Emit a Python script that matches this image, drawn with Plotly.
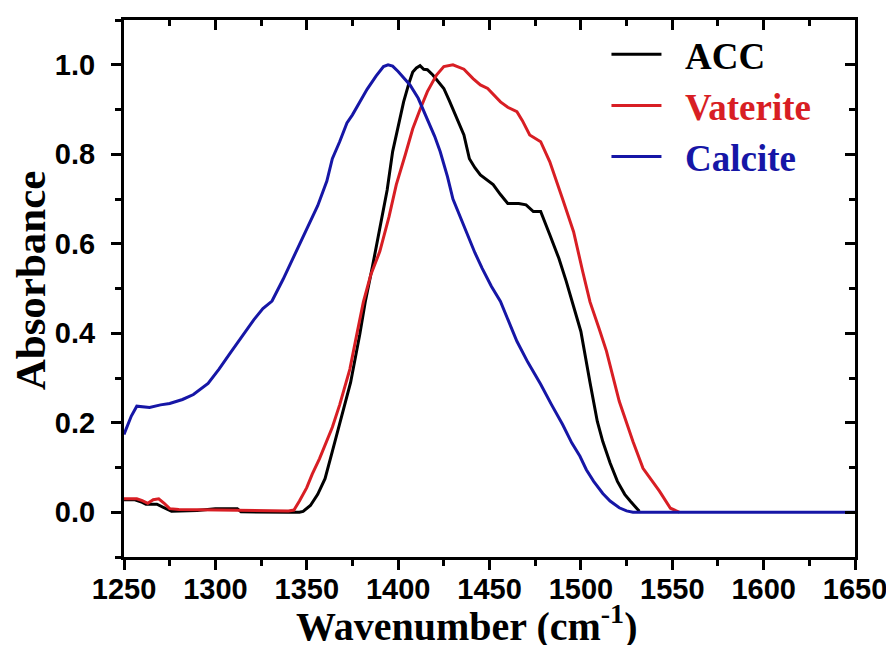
import plotly.graph_objects as go

# ---------------- data ----------------
acc_x = [1250, 1256, 1260, 1262, 1268, 1272, 1276, 1290, 1300, 1312, 1314, 1340, 1346, 1348, 1352, 1356,
         1360, 1364, 1369, 1374, 1379, 1382, 1386, 1390, 1394, 1397, 1400, 1403, 1406, 1408, 1410, 1412,
         1414, 1416, 1419, 1422, 1425, 1428, 1430, 1433, 1436, 1439, 1442, 1445, 1448, 1452, 1456, 1460,
         1466, 1470, 1474, 1478, 1483, 1488, 1492, 1496, 1500, 1505, 1509, 1512, 1516, 1520, 1524, 1527,
         1530, 1532]
acc_y = [0.028, 0.028, 0.022, 0.018, 0.018, 0.010, 0.002, 0.004, 0.008, 0.008, 0.001, 0.0, 0.0, 0.002,
         0.015, 0.040, 0.075, 0.136, 0.21, 0.29, 0.397, 0.47, 0.55, 0.634, 0.72, 0.806, 0.865, 0.917, 0.96,
         0.984, 0.993, 0.998, 0.99, 0.989, 0.977, 0.962, 0.947, 0.92, 0.90, 0.87, 0.843, 0.79, 0.77, 0.754,
         0.745, 0.732, 0.71, 0.69, 0.69, 0.687, 0.672, 0.672, 0.62, 0.567, 0.516, 0.46, 0.404, 0.29, 0.203,
         0.158, 0.11, 0.069, 0.04, 0.025, 0.01, 0.002]

vat_x = [1250, 1257, 1260, 1263, 1266, 1269, 1272, 1275, 1280, 1300, 1330, 1340, 1343, 1346, 1350, 1353,
         1357, 1360, 1364, 1368, 1373.6, 1377.5, 1381, 1385, 1390, 1395, 1399, 1404, 1408, 1412, 1416, 1421,
         1425, 1430, 1436, 1441, 1445, 1449, 1456, 1460, 1465, 1468, 1472, 1478, 1483, 1490, 1496, 1501,
         1505, 1510, 1514, 1521, 1525, 1528.5, 1534, 1538, 1543, 1549, 1554]
vat_y = [0.030, 0.030, 0.026, 0.020, 0.028, 0.030, 0.020, 0.008, 0.006, 0.005, 0.004, 0.003, 0.005, 0.025,
         0.055, 0.085, 0.12, 0.15, 0.19, 0.24, 0.32, 0.40, 0.47, 0.53, 0.583, 0.66, 0.732, 0.80, 0.857, 0.90,
         0.94, 0.977, 0.996, 1.0, 0.99, 0.969, 0.955, 0.947, 0.917, 0.905, 0.895, 0.875, 0.843, 0.828, 0.783,
         0.70, 0.627, 0.538, 0.47, 0.41, 0.36, 0.248, 0.20, 0.158, 0.098, 0.075, 0.047, 0.009, 0.0]

cal_x = [1250, 1254, 1257, 1264, 1270, 1275, 1282, 1288, 1296, 1302, 1308, 1315, 1321, 1326, 1331, 1337,
         1345, 1351, 1356, 1361, 1364, 1368, 1372, 1375, 1380, 1383, 1388, 1392, 1394.5, 1397, 1400, 1403,
         1406.5, 1411, 1416, 1420, 1423, 1427, 1430, 1434, 1438, 1442, 1446, 1451, 1456, 1460, 1465, 1471,
         1478, 1484, 1490, 1495, 1499.5, 1503, 1507, 1512, 1516, 1521, 1525, 1528.5, 1650]
cal_y = [0.174, 0.215, 0.237, 0.234, 0.24, 0.243, 0.252, 0.263, 0.288, 0.32, 0.355, 0.395, 0.43, 0.455,
         0.472, 0.52, 0.59, 0.645, 0.685, 0.74, 0.79, 0.828, 0.87, 0.888, 0.925, 0.945, 0.975, 0.996, 1.0,
         0.997, 0.985, 0.97, 0.955, 0.925, 0.88, 0.84, 0.806, 0.75, 0.70, 0.66, 0.62, 0.58, 0.545, 0.505,
         0.471, 0.43, 0.382, 0.335, 0.286, 0.24, 0.196, 0.155, 0.125, 0.095, 0.069, 0.042, 0.025, 0.01,
         0.003, 0.0, 0.0]

series_names = ["ACC", "Vaterite", "Calcite"]
series_colors = ["#000000", "#d81e24", "#1616a6"]
x_ticks = [1250, 1300, 1350, 1400, 1450, 1500, 1550, 1600, 1650]
y_ticks = [0.0, 0.2, 0.4, 0.6, 0.8, 1.0]
x_range = [1250, 1650]
y_range = [-0.1, 1.1]

# ---------------- figure ----------------
fig = go.Figure()
axes_for = [("x", "y"), ("x", "y"), ("x2", "y2")]
for (name, color, xs, ys), (xa, ya) in zip(
        zip(series_names, series_colors, [acc_x, vat_x, cal_x], [acc_y, vat_y, cal_y]), axes_for):
    fig.add_trace(go.Scatter(
        x=xs, y=ys, mode="lines", line=dict(color=color, width=3),
        name=f"&nbsp;&nbsp;<span style='color:{color}'>{name}</span>", legendgroup=name,
        xaxis=xa, yaxis=ya,
    ))

tick_font = dict(family="Liberation Sans, Arial", size=29, color="black", weight="bold")
serif = "Liberation Serif, Times New Roman"

axis_common = dict(showline=True, linecolor="black", linewidth=3, showgrid=False, zeroline=False,
                   tickcolor="black", tickwidth=3, automargin=False)

# the page body adds an 8 px offset, so the figure is 8 px smaller on each axis
fig.update_layout(
    template="none",
    width=886, height=637,
    margin=dict(l=116, r=39, t=12, b=88, autoexpand=False),
    paper_bgcolor="white", plot_bgcolor="white",
    xaxis=dict(range=x_range, tickvals=x_ticks, ticks="outside", ticklen=10, ticklabelstandoff=-6,
               minor=dict(dtick=25, tick0=1250, ticks="outside", ticklen=6, tickwidth=3, tickcolor="black"),
               tickfont=tick_font, **axis_common),
    yaxis=dict(range=y_range, tickvals=y_ticks, tickformat=".1f", ticks="outside", ticklen=10,
               ticklabelstandoff=10,
               minor=dict(dtick=0.1, tick0=0, ticks="outside", ticklen=6, tickwidth=3, tickcolor="black"),
               tickfont=tick_font, **axis_common),
    xaxis2=dict(range=x_range, overlaying="x", side="top", anchor="y2", tickvals=x_ticks,
                ticks="inside", ticklen=10, showticklabels=False,
                minor=dict(dtick=25, tick0=1250, ticks="inside", ticklen=6, tickwidth=3, tickcolor="black"),
                **axis_common),
    yaxis2=dict(range=y_range, overlaying="y", side="right", anchor="x2", tickvals=y_ticks,
                ticks="inside", ticklen=10, showticklabels=False,
                minor=dict(dtick=0.1, tick0=0, ticks="inside", ticklen=6, tickwidth=3, tickcolor="black"),
                **axis_common),
    showlegend=True,
    legend=dict(x=0.66, y=0.993, xanchor="left", yanchor="top", bgcolor="rgba(0,0,0,0)",
                font=dict(family=serif, size=37, weight="bold"), tracegroupgap=0, itemwidth=50,
                traceorder="normal"),
    annotations=[
        dict(text="Wavenumber (cm<sup>-1</sup>)", xref="paper", yref="paper", x=0.469, y=-0.072,
             xanchor="center", yanchor="top", showarrow=False,
             font=dict(family=serif, size=40, color="black", weight="bold")),
        dict(text="Absorbance", xref="paper", yref="paper", x=-0.128, y=0.516, textangle=-90,
             xanchor="center", yanchor="middle", showarrow=False,
             font=dict(family=serif, size=43, color="black", weight="bold")),
    ],
)

fig.write_html("out.html")
